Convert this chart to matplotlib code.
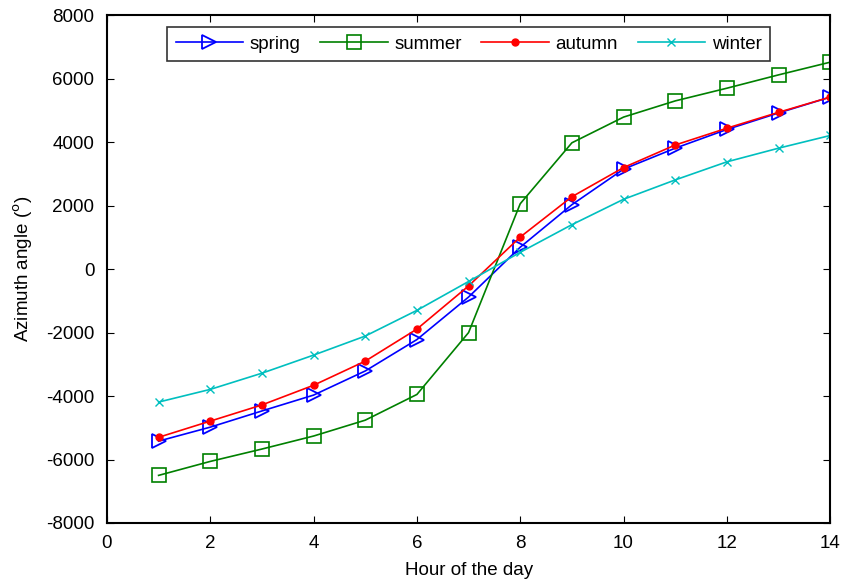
import matplotlib
matplotlib.use('Agg')
import matplotlib.pyplot as plt

plt.rcParams['font.family'] = ['Liberation Sans', 'DejaVu Sans']
plt.rcParams['axes.unicode_minus'] = False

hours = list(range(1, 15))
spring = [-5420, -4980, -4470, -3970, -3210, -2220, -880, 690, 2030, 3150, 3810, 4400, 4920, 5420]
summer = [-6500, -6060, -5670, -5260, -4760, -3950, -2000, 2060, 3980, 4790, 5300, 5700, 6120, 6520]
autumn = [-5300, -4790, -4280, -3660, -2900, -1890, -530, 1010, 2280, 3200, 3910, 4440, 4940, 5420]
winter = [-4190, -3790, -3280, -2710, -2110, -1300, -390, 530, 1400, 2200, 2810, 3380, 3810, 4210]

fig = plt.figure(figsize=(8.42, 5.85), dpi=100)
ax = fig.add_axes([0.127, 0.106, 0.859, 0.868])

ax.plot(hours, spring, color='blue', marker='>', markersize=10, markerfacecolor='none',
        markeredgewidth=1.3, lw=1.2, label='spring')
ax.plot(hours, summer, color='green', marker='s', markersize=10, markerfacecolor='none',
        markeredgewidth=1.2, lw=1.2, label='summer')
ax.plot(hours, autumn, color='red', marker='o', markersize=5, lw=1.2, label='autumn')
ax.plot(hours, winter, color='#00bfbf', marker='x', markersize=6, lw=1.2, label='winter')

ax.set_xlim(0, 14)
ax.set_ylim(-8000, 8000)
ax.set_xticks(range(0, 15, 2))
ax.set_yticks(range(-8000, 8001, 2000))
ax.tick_params(direction='in', top=True, right=True, labelsize=13.5, length=5, pad=9)
for s in ax.spines.values():
    s.set_linewidth(1.5)
ax.set_xlabel('Hour of the day', fontsize=13.5, labelpad=7)
ax.set_ylabel(r'Azimuth angle ($^{\mathrm{o}}$)', fontsize=13.5, labelpad=8)

leg = ax.legend(loc='upper center', ncol=4, fontsize=13.5, frameon=True, fancybox=False,
                edgecolor='black', handlelength=3.6, handletextpad=0.35, columnspacing=1.05,
                borderaxespad=0.65, borderpad=0.45, bbox_to_anchor=(0.5, 1.0))
leg.get_frame().set_linewidth(1.2)

fig.savefig('out.png', dpi=100)
